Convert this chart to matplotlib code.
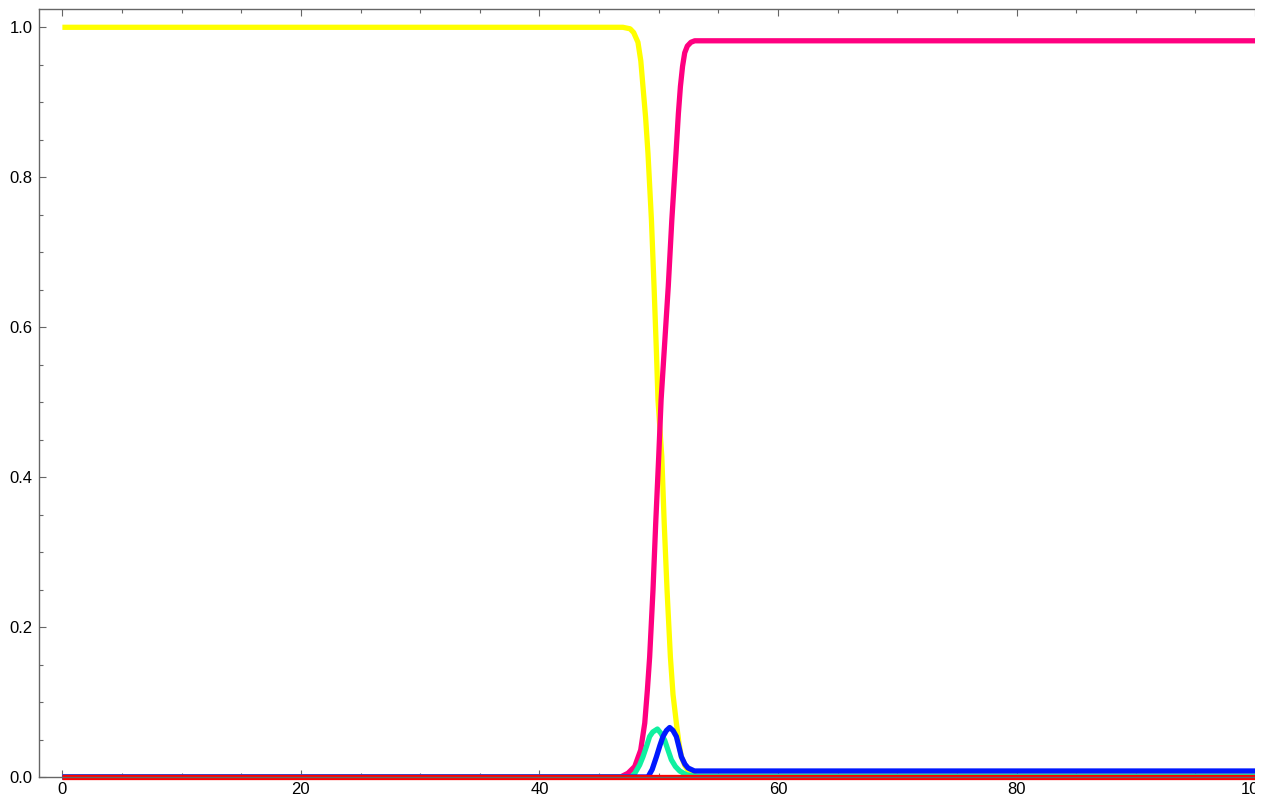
"""Species fractions across a sharp front (Mathematica-style frame plot)."""

import matplotlib.pyplot as plt
from matplotlib.patches import Rectangle
from matplotlib.ticker import MultipleLocator, FormatStrFormatter

# values
yellow_x = [0, 47.0, 47.6, 47.9, 48.26, 48.5, 48.68, 48.9, 49.10, 49.39, 49.61,
            49.81, 49.94, 50.26, 50.46, 50.70, 50.98, 51.20, 51.48, 51.70, 51.90,
            52.20, 52.46, 52.80, 53.16, 100]
yellow_y = [1.0, 1.0, 0.998, 0.993, 0.980, 0.955, 0.921, 0.880, 0.832, 0.743, 0.654,
            0.566, 0.503, 0.427, 0.339, 0.249, 0.160, 0.110, 0.072, 0.045, 0.027,
            0.015, 0.009, 0.004, 0.001, 0.001]

pink_x = [0, 46.8, 47.42, 47.99, 48.49, 48.83, 49.05, 49.24, 49.52, 49.75, 50.0,
          50.2, 50.45, 50.80, 51.10, 51.45, 51.65, 51.82, 52.00, 52.18, 52.40,
          52.70, 53.02, 100]
pink_y = [0.0, 0.0, 0.005, 0.014, 0.036, 0.072, 0.116, 0.160, 0.249, 0.339, 0.427,
          0.503, 0.566, 0.654, 0.743, 0.832, 0.885, 0.921, 0.948, 0.966, 0.975,
          0.980, 0.982, 0.982]

green_x = [0, 47.7, 48.0, 48.4, 48.68, 49.0, 49.24, 49.5, 49.89, 50.2, 50.5, 50.8,
           51.06, 51.4, 51.76, 52.32, 53.0, 100]
green_y = [0.0, 0.0, 0.005, 0.016, 0.027, 0.042, 0.054, 0.060, 0.064, 0.058, 0.049,
           0.035, 0.023, 0.014, 0.008, 0.003, 0.001, 0.001]

blue_x = [0, 49.1, 49.45, 49.81, 50.1, 50.36, 50.65, 50.92, 51.2, 51.48, 51.7,
          51.90, 52.2, 52.46, 53.0, 100]
blue_y = [0.0, 0.0, 0.010, 0.027, 0.042, 0.054, 0.062, 0.066, 0.062, 0.054, 0.040,
          0.027, 0.017, 0.012, 0.008, 0.008]

red_x = [0, 100]
red_y = [0.0, 0.0]

x_ticks = [0, 20, 40, 60, 80, 100]
y_ticks = [0.0, 0.2, 0.4, 0.6, 0.8, 1.0]

SERIES = [
    (yellow_x, yellow_y, "#FFFF00"),
    (pink_x, pink_y, "#FF0080"),
    (green_x, green_y, "#10F0A0"),
    (blue_x, blue_y, "#0018FF"),
    (red_x, red_y, "#FF0000"),
]


def main() -> None:
    plt.rcParams["font.family"] = ["Liberation Sans", "DejaVu Sans"]

    fig = plt.figure(figsize=(12.63, 7.97), dpi=100)
    ax = fig.add_axes([0.0305, 0.0251, 0.9632, 0.9636])

    for xs, ys, color in SERIES:
        ax.plot(xs, ys, color=color, lw=3.8, clip_on=False,
                solid_capstyle="butt", solid_joinstyle="round")

    ax.set_xlim(-2, 100)
    ax.set_ylim(0, 1.0244)
    ax.set_xticks(x_ticks)
    ax.set_yticks(y_ticks)
    ax.yaxis.set_major_formatter(FormatStrFormatter("%.1f"))
    ax.xaxis.set_minor_locator(MultipleLocator(5))
    ax.yaxis.set_minor_locator(MultipleLocator(0.05))

    frame = "#666666"
    for side in ("left", "bottom", "top"):
        ax.spines[side].set_color(frame)
        ax.spines[side].set_linewidth(1.0)
    ax.spines["right"].set_visible(False)

    ax.tick_params(which="both", direction="in", top=True, right=False,
                   color=frame, width=0.8, labelsize=12, labelcolor="black")
    ax.tick_params(which="major", length=5)
    ax.tick_params(which="minor", length=3)
    ax.tick_params(axis="y", which="major", pad=4.3)
    ax.tick_params(axis="x", which="major", pad=3.5)

    # the source image is cropped just past x = 100
    fig.patches.append(Rectangle((1254.5 / 1263, 0), 1, 1, transform=fig.transFigure,
                                 facecolor="white", edgecolor="none", zorder=10))

    fig.savefig("out.png", dpi=100)
    plt.close(fig)


if __name__ == "__main__":
    main()
